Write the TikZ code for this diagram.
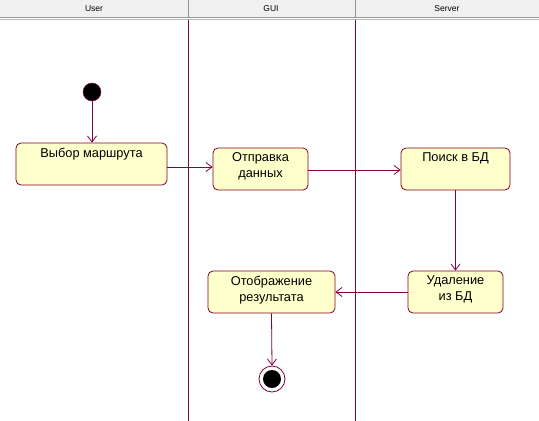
\documentclass[tikz,border=0pt]{standalone}
\usepackage{fontspec}
\setmainfont{Liberation Sans}
\usetikzlibrary{arrows.meta}
\definecolor{lane}{RGB}{128,0,64}
\definecolor{boxfill}{RGB}{255,255,204}
\definecolor{boxline}{RGB}{128,0,32}
\definecolor{hdr}{RGB}{240,240,240}
\definecolor{hdrline}{RGB}{150,150,150}
\tikzset{
  act/.style={draw=boxline, fill=boxfill, rounded corners=5pt, line width=0.8pt},
  lbl/.style={font=\fontsize{12.8}{16}\selectfont, align=center, anchor=north, inner sep=0pt},
  flow/.style={draw=lane, line width=0.8pt, -{Straight Barb[length=6pt,width=9pt]}},
  hdrtxt/.style={font=\fontsize{8.5}{9}\selectfont, inner sep=0pt}
}
\begin{document}
\begin{tikzpicture}[x=1pt,y=-1pt]
\useasboundingbox (0,0) rectangle (539,421);
\fill[white] (0,0) rectangle (539,421);
% header
\fill[hdr] (0,0) rectangle (539,17);
\draw[hdrline, line width=1pt] (0,17.5) -- (539,17.5);
\draw[hdrline!70, line width=0.8pt] (0,19.5) -- (539,19.5);
\draw[hdrline, line width=1pt] (188,0) -- (188,17);
\draw[hdrline, line width=1pt] (355,0) -- (355,17);
\node[hdrtxt] (hU) at (94,8.5) {User};
\node[hdrtxt] (hG) at (271,8.5) {GUI};
\node[hdrtxt] (hS) at (447,8.5) {Server};
% lanes
\draw[lane, line width=0.8pt] (188.5,20) -- (188.5,421);
\draw[lane, line width=0.8pt] (355.5,20) -- (355.5,421);
% initial
\node[circle, fill=black, draw=lane, minimum size=18pt, inner sep=0pt] (start) at (92,92) {};
% boxes
\node[act, minimum width=151pt, minimum height=42pt, inner sep=0pt] (b1) at (91.5,164) {};
\node[lbl] (t1) at (91.5,147.5) {Выбор маршрута};
\node[act, minimum width=95pt, minimum height=42pt, inner sep=0pt] (b2) at (260.5,169) {};
\node[lbl] (t2) at (260.5,152.5) {Отправка\\данных};
\node[act, minimum width=109pt, minimum height=42pt, inner sep=0pt] (b3) at (455.5,169) {};
\node[lbl] (t3) at (455.5,152.5) {Поиск в БД};
\node[act, minimum width=95pt, minimum height=42pt, inner sep=0pt] (b4) at (455.5,292) {};
\node[lbl] (t4) at (455.5,275.5) {Удаление\\ из БД};
\node[act, minimum width=127pt, minimum height=42pt, inner sep=0pt] (b5) at (271.5,292) {};
\node[lbl] (t5) at (271.5,275.5) {Отображение\\результата};
% final
\node[circle, draw=lane, fill=white, line width=0.8pt, minimum size=26pt, inner sep=0pt] (fin) at (272,379) {};
\node[circle, fill=black, minimum size=18pt, inner sep=0pt] (finin) at (fin.center) {};
% flows
\draw[flow] (start) -- (b1.north -| start);
\draw[flow] (b1.east |- 0,167) -- (b2.west |- 0,167);
\draw[flow] (b2.east |- 0,170) -- (b3.west |- 0,170);
\draw[flow] (b3.south) -- (b4.north);
\draw[flow] (b4.west) -- (b5.east);
\draw[flow] (b5.south) -- (fin.north);
\end{tikzpicture}
\end{document}
